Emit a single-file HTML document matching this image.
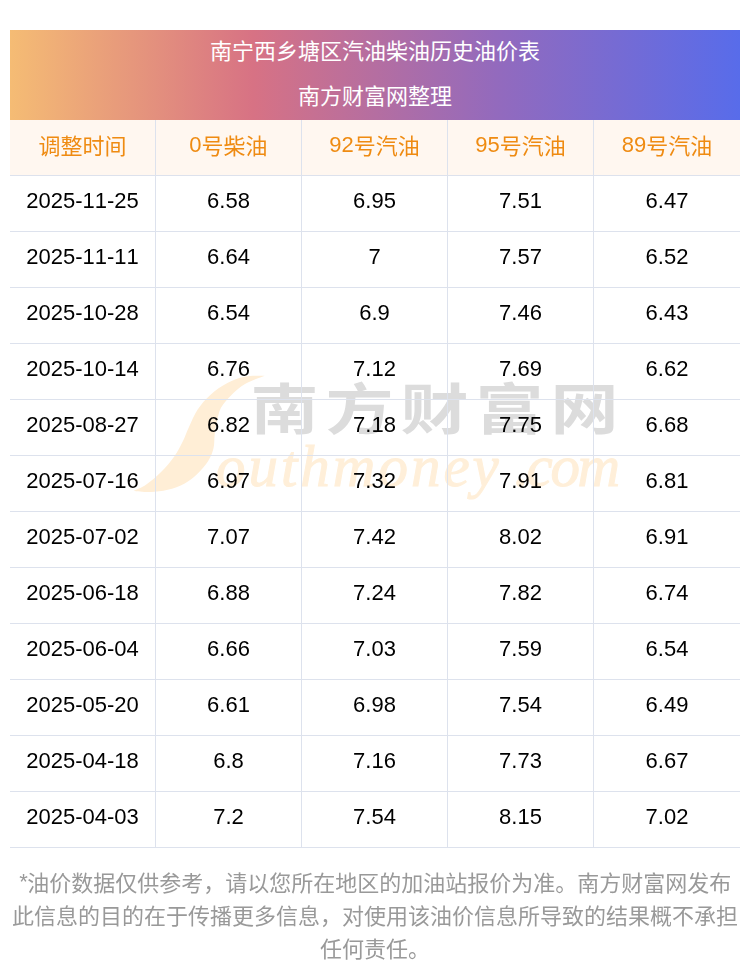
<!DOCTYPE html>
<html lang="zh-CN">
<head>
<meta charset="utf-8">
<title>南宁西乡塘区汽油柴油历史油价表</title>
<style>
html,body{margin:0;padding:0;background:#fff}
body{width:750px;height:977px;position:relative;overflow:hidden;font-family:"Liberation Sans","Noto Sans CJK SC",sans-serif;font-size:22px;color:#000;font-kerning:none}
.wrap{position:absolute;left:10px;top:30px;width:730px}
table{position:relative;z-index:1;will-change:transform;width:730px;border-collapse:separate;border-spacing:0;table-layout:fixed;margin:0}
th,td{padding:0;margin:0;font-weight:normal;text-align:center;vertical-align:middle;white-space:nowrap;overflow:visible}
.cap{width:730px;height:90px;background:linear-gradient(90deg,#f5bc74 0%,#d77284 33.3%,#936abd 66.6%,#586cea 100%);color:#fff;text-align:center}
.cap div{height:45px;line-height:45px}
.cap .l1{position:relative;top:-1.5px}
.cap .l2{position:relative;top:-0.65px}
tr.h th{height:55px;background:#fff7f0;color:#ef8b12;border-right:1px solid #dde2ed;border-bottom:1px solid #dde2ed}
td{height:55px;border-right:1px solid #dde2ed;border-bottom:1px solid #dde2ed}
tr.h th:last-child,td:last-child{border-right:0}
th .t,td .t{position:relative;top:-3px;display:inline-block;line-height:25px}
th .cjt{position:relative;top:2px}
.wm{position:absolute;z-index:0;left:110px;top:335px;width:520px;height:150px}
.wm svg{position:absolute;left:0;top:0}
.wmt{position:absolute;left:95.9px;top:66px;font-family:"Liberation Serif",serif;font-style:italic;font-size:59px;line-height:70px;color:#ffefd9;-webkit-text-stroke:1px #ffefd9;letter-spacing:3px;white-space:nowrap}
.wmt .dc{margin-left:12.5px;letter-spacing:-2.4px}
.ast{position:relative;top:-2.5px;left:0.5px}
.note{will-change:transform;position:absolute;left:0;top:837px;width:730px;color:#999;text-align:center}
.note div{height:33px;line-height:33px;white-space:nowrap}
</style>
</head>
<body>
<div class="wrap">
<div class="cap"><div><span class="l1">南宁西乡塘区汽油柴油历史油价表</span></div><div><span class="l2">南方财富网整理</span></div></div>
<div class="wm" aria-hidden="true"><svg width="520" height="150" viewBox="0 0 520 150"><path fill="#ffeed6" d="M144.7 10.7C141.3 10.9 130.7 10.5 124.5 11.7C118.3 12.9 113.1 15.1 107.4 18.1C101.7 21.1 95.3 25.4 90.3 29.9C85.3 34.3 81.0 39.5 77.5 44.8C74.0 50.1 71.5 56.6 69.0 61.9C66.5 67.2 65.1 71.8 62.6 76.8C60.1 81.8 57.6 86.7 54.1 91.7C50.5 96.7 45.9 102.1 41.3 106.7C36.7 111.3 30.9 116.3 26.3 119.5C21.7 122.7 15.6 124.8 13.5 125.9C16.3 126.1 24.9 127.1 30.6 126.9C36.3 126.7 42.0 126.2 47.7 124.8C53.4 123.4 59.7 121.1 64.7 118.4C69.7 115.7 73.6 112.5 77.5 108.8C81.4 105.1 85.5 100.3 88.2 96.0C90.9 91.7 92.4 87.5 93.5 83.2C94.6 78.9 94.1 74.7 94.6 70.4C95.1 66.1 95.6 62.2 96.7 57.6C97.8 53.0 98.5 47.3 101.0 42.7C103.5 38.1 107.5 33.8 111.5 29.9C115.5 25.9 119.5 22.2 125.0 19.0C130.5 15.8 141.4 12.1 144.7 10.7Z"/><g fill="#dcdcdc" font-family="'Liberation Sans','Noto Sans CJK SC',sans-serif" font-size="54.5" font-weight="bold"><text transform="translate(130.5,63.5) scale(1.2477,1)">南</text><text transform="translate(205.5,63.5) scale(1.2477,1)">方</text><text transform="translate(280.5,63.5) scale(1.2477,1)">财</text><text transform="translate(355.5,63.5) scale(1.2477,1)">富</text><text transform="translate(430.5,63.5) scale(1.2477,1)">网</text></g></svg><span class="wmt">outhmoney<span class="dc">.com</span></span></div>
<table>
<thead><tr class="h"><th><span class="t"><span class="cjt">调整时间</span></span></th><th><span class="t">0<span class="cjt">号柴油</span></span></th><th><span class="t">92<span class="cjt">号汽油</span></span></th><th><span class="t">95<span class="cjt">号汽油</span></span></th><th><span class="t">89<span class="cjt">号汽油</span></span></th></tr></thead>
<tbody>
<tr><td><span class="t">2025-11-25</span></td><td><span class="t">6.58</span></td><td><span class="t">6.95</span></td><td><span class="t">7.51</span></td><td><span class="t">6.47</span></td></tr>
<tr><td><span class="t">2025-11-11</span></td><td><span class="t">6.64</span></td><td><span class="t">7</span></td><td><span class="t">7.57</span></td><td><span class="t">6.52</span></td></tr>
<tr><td><span class="t">2025-10-28</span></td><td><span class="t">6.54</span></td><td><span class="t">6.9</span></td><td><span class="t">7.46</span></td><td><span class="t">6.43</span></td></tr>
<tr><td><span class="t">2025-10-14</span></td><td><span class="t">6.76</span></td><td><span class="t">7.12</span></td><td><span class="t">7.69</span></td><td><span class="t">6.62</span></td></tr>
<tr><td><span class="t">2025-08-27</span></td><td><span class="t">6.82</span></td><td><span class="t">7.18</span></td><td><span class="t">7.75</span></td><td><span class="t">6.68</span></td></tr>
<tr><td><span class="t">2025-07-16</span></td><td><span class="t">6.97</span></td><td><span class="t">7.32</span></td><td><span class="t">7.91</span></td><td><span class="t">6.81</span></td></tr>
<tr><td><span class="t">2025-07-02</span></td><td><span class="t">7.07</span></td><td><span class="t">7.42</span></td><td><span class="t">8.02</span></td><td><span class="t">6.91</span></td></tr>
<tr><td><span class="t">2025-06-18</span></td><td><span class="t">6.88</span></td><td><span class="t">7.24</span></td><td><span class="t">7.82</span></td><td><span class="t">6.74</span></td></tr>
<tr><td><span class="t">2025-06-04</span></td><td><span class="t">6.66</span></td><td><span class="t">7.03</span></td><td><span class="t">7.59</span></td><td><span class="t">6.54</span></td></tr>
<tr><td><span class="t">2025-05-20</span></td><td><span class="t">6.61</span></td><td><span class="t">6.98</span></td><td><span class="t">7.54</span></td><td><span class="t">6.49</span></td></tr>
<tr><td><span class="t">2025-04-18</span></td><td><span class="t">6.8</span></td><td><span class="t">7.16</span></td><td><span class="t">7.73</span></td><td><span class="t">6.67</span></td></tr>
<tr><td><span class="t">2025-04-03</span></td><td><span class="t">7.2</span></td><td><span class="t">7.54</span></td><td><span class="t">8.15</span></td><td><span class="t">7.02</span></td></tr>
</tbody>
</table>
<div class="note"><div><span class="ast">*</span><span>油价数据仅供参考，请以您所在地区的加油站报价为准。南方财富网发布</span></div><div><span>此信息的目的在于传播更多信息，对使用该油价信息所导致的结果概不承担</span></div><div><span>任何责任。</span></div></div>
</div>
</body>
</html>
